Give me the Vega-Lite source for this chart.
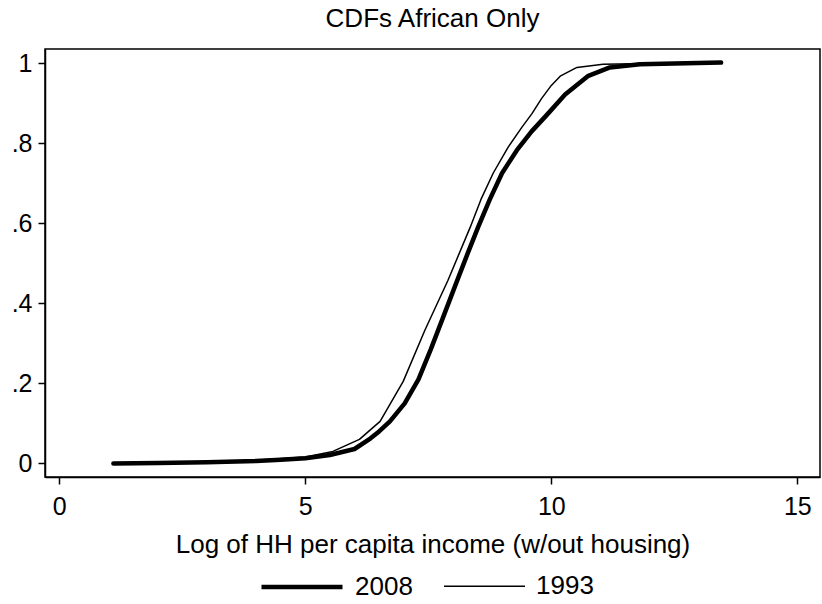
{
  "$schema": "https://vega.github.io/schema/vega-lite/v6.json",
  "autosize": {"type": "none"},
  "padding": {"left": 45, "top": 49, "right": 2, "bottom": 127},
  "width": 775,
  "height": 428,
  "background": "white",
  "title": {
    "text": "CDFs African Only",
    "font": "Liberation Sans",
    "fontSize": 26,
    "fontWeight": "normal",
    "color": "black",
    "offset": 17
  },
  "config": {
    "view": {"stroke": "black", "strokeWidth": 1.5},
    "axis": {
      "domainColor": "black",
      "domainWidth": 1.5,
      "tickColor": "black",
      "tickWidth": 1.5,
      "tickSize": 7,
      "grid": false,
      "labelFont": "Liberation Sans",
      "labelFontSize": 25,
      "labelColor": "black",
      "titleFont": "Liberation Sans",
      "titleFontSize": 26,
      "titleFontWeight": "normal",
      "titleColor": "black"
    },
    "legend": {
      "labelFont": "Liberation Sans",
      "labelFontSize": 26,
      "labelColor": "black"
    }
  },
  "data": {
    "values": [
      {"year": "2008", "income": 1.1, "cdf": 0.000},
      {"year": "2008", "income": 2.0, "cdf": 0.001},
      {"year": "2008", "income": 3.0, "cdf": 0.003},
      {"year": "2008", "income": 4.0, "cdf": 0.006},
      {"year": "2008", "income": 4.5, "cdf": 0.009},
      {"year": "2008", "income": 5.0, "cdf": 0.013},
      {"year": "2008", "income": 5.5, "cdf": 0.021},
      {"year": "2008", "income": 6.0, "cdf": 0.036},
      {"year": "2008", "income": 6.32, "cdf": 0.062},
      {"year": "2008", "income": 6.5, "cdf": 0.080},
      {"year": "2008", "income": 6.72, "cdf": 0.105},
      {"year": "2008", "income": 7.02, "cdf": 0.150},
      {"year": "2008", "income": 7.30, "cdf": 0.210},
      {"year": "2008", "income": 7.55, "cdf": 0.285},
      {"year": "2008", "income": 7.80, "cdf": 0.365},
      {"year": "2008", "income": 8.08, "cdf": 0.455},
      {"year": "2008", "income": 8.30, "cdf": 0.525},
      {"year": "2008", "income": 8.51, "cdf": 0.590},
      {"year": "2008", "income": 8.75, "cdf": 0.660},
      {"year": "2008", "income": 9.00, "cdf": 0.726},
      {"year": "2008", "income": 9.30, "cdf": 0.783},
      {"year": "2008", "income": 9.60, "cdf": 0.830},
      {"year": "2008", "income": 9.90, "cdf": 0.870},
      {"year": "2008", "income": 10.28, "cdf": 0.922},
      {"year": "2008", "income": 10.74, "cdf": 0.968},
      {"year": "2008", "income": 11.19, "cdf": 0.990},
      {"year": "2008", "income": 11.8, "cdf": 0.998},
      {"year": "2008", "income": 12.5, "cdf": 1.000},
      {"year": "2008", "income": 13.45, "cdf": 1.002},
      {"year": "1993", "income": 1.1, "cdf": 0.000},
      {"year": "1993", "income": 2.0, "cdf": 0.001},
      {"year": "1993", "income": 3.0, "cdf": 0.004},
      {"year": "1993", "income": 4.0, "cdf": 0.008},
      {"year": "1993", "income": 5.0, "cdf": 0.016},
      {"year": "1993", "income": 5.56, "cdf": 0.030},
      {"year": "1993", "income": 6.1, "cdf": 0.060},
      {"year": "1993", "income": 6.52, "cdf": 0.105},
      {"year": "1993", "income": 6.99, "cdf": 0.205},
      {"year": "1993", "income": 7.43, "cdf": 0.333},
      {"year": "1993", "income": 7.90, "cdf": 0.458},
      {"year": "1993", "income": 8.35, "cdf": 0.590},
      {"year": "1993", "income": 8.57, "cdf": 0.660},
      {"year": "1993", "income": 8.82, "cdf": 0.726},
      {"year": "1993", "income": 9.12, "cdf": 0.790},
      {"year": "1993", "income": 9.40, "cdf": 0.840},
      {"year": "1993", "income": 9.61, "cdf": 0.875},
      {"year": "1993", "income": 9.80, "cdf": 0.912},
      {"year": "1993", "income": 10.00, "cdf": 0.945},
      {"year": "1993", "income": 10.18, "cdf": 0.968},
      {"year": "1993", "income": 10.52, "cdf": 0.990},
      {"year": "1993", "income": 11.05, "cdf": 0.998},
      {"year": "1993", "income": 12.0, "cdf": 1.000}
    ]
  },
  "mark": {"type": "line", "color": "black", "strokeJoin": "round", "strokeCap": "round"},
  "encoding": {
    "x": {
      "field": "income",
      "type": "quantitative",
      "scale": {"domain": [-0.29, 15.46], "nice": false, "zero": false},
      "axis": {
        "values": [0, 5, 10, 15],
        "title": "Log of HH per capita income (w/out housing)",
        "labelPadding": 10,
        "titlePadding": 12
      }
    },
    "y": {
      "field": "cdf",
      "type": "quantitative",
      "scale": {"domain": [-0.034, 1.036], "nice": false, "zero": false},
      "axis": {
        "values": [0, 0.2, 0.4, 0.6, 0.8, 1],
        "title": null,
        "labelPadding": 6,
        "labelExpr": "datum.value == 0 ? '0' : datum.value == 1 ? '1' : replace(format(datum.value, '.1f'), '0.', '.')"
      }
    },
    "strokeWidth": {
      "field": "year",
      "type": "nominal",
      "scale": {"domain": ["2008", "1993"], "range": [4.5, 1.5]},
      "legend": {
        "title": null,
        "orient": "none",
        "direction": "horizontal",
        "legendX": 214,
        "legendY": 495,
        "symbolType": "stroke",
        "symbolSize": 6561,
        "symbolStrokeColor": "black",
        "labelOffset": 10,
        "columnPadding": 28
      }
    },
    "order": {"field": "income", "type": "quantitative"}
  }
}
